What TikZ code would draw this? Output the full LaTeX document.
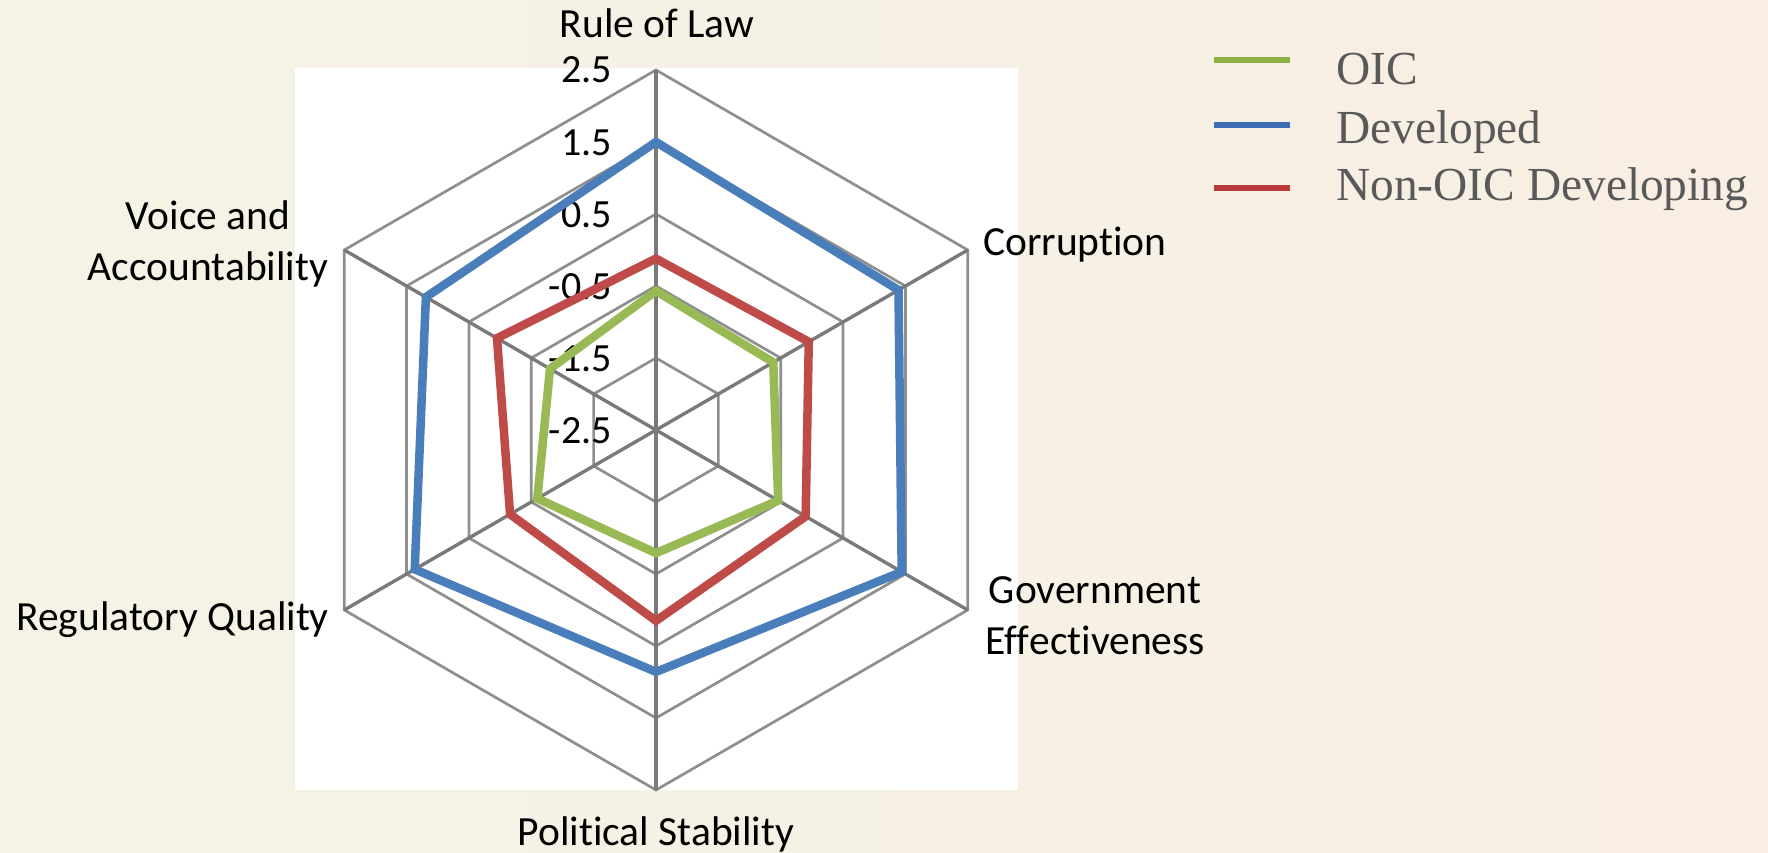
\documentclass[tikz,border=0pt]{standalone}
\usepackage{fontspec}
\setmainfont{Carlito}[Ligatures={NoCommon,NoContextual,NoRare},Contextuals=NoAlternate]
\newfontfamily\legfont{Liberation Serif}
\newcommand\nolig{\kern0pt{}}
\definecolor{bgL}{HTML}{F5F3E6}
\definecolor{bgR}{HTML}{F8EEE3}
\definecolor{ringc}{HTML}{8F8F8F}
\definecolor{spokec}{HTML}{7A7A7A}
\definecolor{devc}{HTML}{4A7EBB}
\definecolor{nonc}{HTML}{BE4B48}
\definecolor{oicc}{HTML}{98B954}
\definecolor{devL}{HTML}{3E6DB5}
\definecolor{nonL}{HTML}{B93A3A}
\definecolor{oicL}{HTML}{8DB142}
\definecolor{legtext}{HTML}{595959}
\tikzset{
  ring/.style={draw=ringc, line width=2.7pt},
  spoke/.style={draw=spokec, line width=3.4pt},
  series/.style={line width=8.5pt, line join=miter},
  tick/.style={anchor=base east, inner sep=0pt, font=\fontsize{40}{48}\selectfont},
  axlab/.style={inner sep=0pt, font=\fontsize{41.5}{50}\selectfont},
  legline/.style={line width=6pt},
  legtxt/.style={anchor=base west, inner sep=0pt, text=legtext, font=\legfont\fontsize{47.4}{56}\selectfont}
}
\begin{document}
\begin{tikzpicture}[x=1pt,y=1pt]
  % background
  \useasboundingbox (-656,-422) rectangle (1112,430);
  \shade[left color=bgL, right color=bgR] (-656,-422) rectangle (1112,430);
  \fill[white] (-361,-360) rectangle (362,362);
  % grid rings
  \foreach \r in {72,144,216,288,360}{
    \draw[ring] (90:\r) -- (30:\r) -- (-30:\r) -- (-90:\r) -- (-150:\r) -- (150:\r) -- cycle;
  }
  % spokes
  \coordinate (c) at (0,0);
  \foreach \a in {90,30,-30,-90,-150,150}{
    \draw[spoke] (c) -- (\a:360);
  }
  % tick labels
  \node[tick] (t1) at (-44,-13) {-2.5};
  \node[tick] (t2) at (-44,59) {-1.5};
  \node[tick] (t3) at (-44,131) {-0.5};
  \node[tick] (t4) at (-44,203) {0.5};
  \node[tick] (t5) at (-44,275) {1.5};
  \node[tick] (t6) at (-44,347) {2.5};
  % series
  \draw[series, draw=oicc] (90:139) -- (30:135.4) -- (-30:141.1) -- (-90:123.1) -- (-150:137) -- (150:122.4) -- cycle;
  \draw[series, draw=devc] (90:288) -- (30:280) -- (-30:283.7) -- (-90:241.9) -- (-150:278.6) -- (150:265.7) -- cycle;
  \draw[series, draw=nonc] (90:171.4) -- (30:176.4) -- (-30:172.8) -- (-90:190.8) -- (-150:168.5) -- (150:183.6) -- cycle;
  % axis labels
  \node[axlab, anchor=base] (rol) at (1,392) {Rule of Law};
  \node[axlab, anchor=base west] (cor) at (327,175) {Corrupt\nolig ion};
  \node[axlab, anchor=base] (gov1) at (439,-173) {Government};
  \node[axlab, anchor=base] (gov2) at (439,-224) {Ef\nolig f\nolig ect\nolig iveness};
  \node[axlab, anchor=base] (pol) at (0,-415) {Polit\nolig ical Stabilit\nolig y};
  \node[axlab, anchor=base east] (reg) at (-327,-200) {Regulatory Quality};
  \node[axlab, anchor=base] (voi1) at (-448,201) {Voice and};
  \node[axlab, anchor=base] (voi2) at (-448,150) {Accountability};
  % legend
  \coordinate (l1a) at (558,370); \coordinate (l1b) at (634,370);
  \coordinate (l2a) at (558,305); \coordinate (l2b) at (634,305);
  \coordinate (l3a) at (558,242); \coordinate (l3b) at (634,242);
  \draw[legline, draw=oicL] (l1a) -- (l1b);
  \draw[legline, draw=devL] (l2a) -- (l2b);
  \draw[legline, draw=nonL] (l3a) -- (l3b);
  \node[legtxt] (g1) at (680,345) {OIC};
  \node[legtxt] (g2) at (680,287) {Developed};
  \node[legtxt] (g3) at (680,230) {Non-OIC Developing};
\end{tikzpicture}
\end{document}
